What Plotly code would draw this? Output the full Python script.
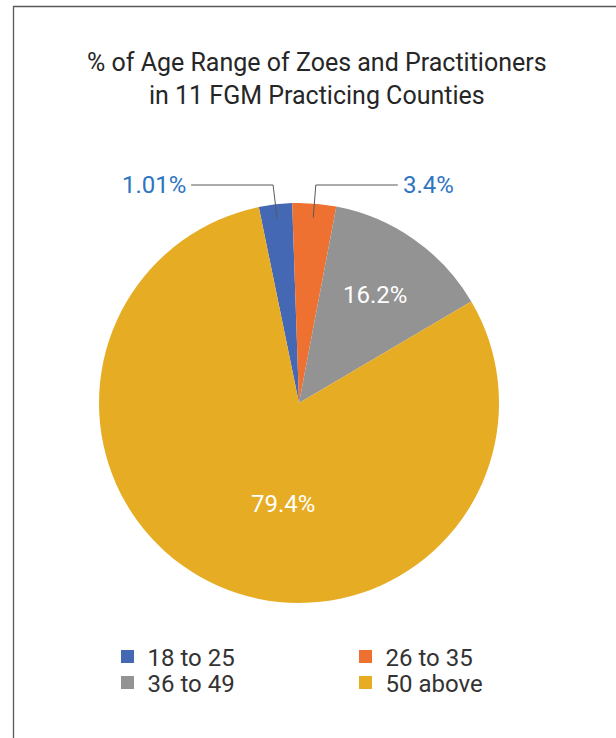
import math
import plotly.graph_objects as go

# ---- data ----
categories = ["18 to 25", "26 to 35", "36 to 49", "50 above"]
values = [2.68, 3.53, 13.53, 80.26]                # slice sizes as drawn
label_texts = ["1.01%", "3.4%", "16.2%", "79.4%"]  # labels as printed on the chart
colors = ["#4468B3", "#EE7131", "#939393", "#E6AC24"]
legend_rows = [0, 0, 1, 1]                          # which legend row each category sits in

W, H = 616, 738
CX, CY, R = 299, 403, 200
ROT = -11.6  # degrees, clockwise from 12 o'clock where the first slice starts

def px(x):
    return x / W

def py(y):
    return 1 - y / H

fig = go.Figure()
fig.add_trace(go.Pie(
    labels=categories,
    values=values,
    textinfo="none",
    marker=dict(colors=colors, line=dict(width=0)),
    sort=False,
    direction="clockwise",
    rotation=ROT,
    domain=dict(x=[px(CX - R), px(CX + R)], y=[py(CY + R), py(CY - R)]),
    hoverinfo="label+percent",
    showlegend=False,
))

# legend entries (two rows, tighter spacing like the original)
for cat, col, row in zip(categories, colors, legend_rows):
    fig.add_trace(go.Scatter(
        x=[None], y=[None], mode="markers", name=cat,
        marker=dict(symbol="square", size=13, color=col),
        legend="legend" if row == 0 else "legend2",
        showlegend=True, hoverinfo="skip",
    ))

shapes = []
annotations = []
total = sum(values)
cum = 0
inside_pos = {2: (0.66, None), 3: (0.51, 189.0)}
for i, v in enumerate(values):
    mid = ROT + 360 * (cum + v / 2) / total
    cum += v
    if i in inside_pos:
        frac, ang = inside_pos[i]
        a = math.radians(ang if ang is not None else mid)
        annotations.append(dict(xref="paper", yref="paper",
                                x=px(CX + frac * R * math.sin(a)),
                                y=py(CY - frac * R * math.cos(a)),
                                text=label_texts[i], showarrow=False,
                                xanchor="center", yanchor="middle",
                                font=dict(family="Roboto", size=24, color="white")))
        continue
    a = math.radians(mid)
    sx = CX + 0.93 * R * math.sin(a)
    sy = CY - 0.93 * R * math.cos(a)
    ey = CY - 1.09 * R
    ex = CX + (ey - CY) / (-math.cos(a)) * math.sin(a)
    sign = -1 if mid < 0 else 1
    hx = ex + sign * 82
    shapes.append(dict(type="path", xref="paper", yref="paper",
                       path=f"M{px(sx)},{py(sy)} L{px(ex)},{py(ey)} L{px(hx)},{py(ey)}",
                       line=dict(color="#595959", width=1)))
    annotations.append(dict(xref="paper", yref="paper", x=px(hx + sign * 3), y=py(ey),
                            text=label_texts[i], showarrow=False,
                            xanchor="right" if sign < 0 else "left", yanchor="middle",
                            font=dict(family="Roboto", size=24, color="#2E75C0")))

# title
annotations.append(dict(xref="paper", yref="paper", x=px(317), y=py(79),
                        text="% of Age Range of Zoes and Practitioners<br>in 11 FGM Practicing Counties",
                        showarrow=False, xanchor="center", yanchor="middle",
                        font=dict(family="Roboto", size=25, color="#262626")))

# chart border (left and top visible only)
shapes.append(dict(type="path", xref="paper", yref="paper",
                   path=f"M{px(13.5)},{py(H + 5)} L{px(13.5)},{py(6.5)} L{px(W + 5)},{py(6.5)}",
                   line=dict(color="#595959", width=1.3)))

leg_common = dict(orientation="h", xanchor="left", yanchor="middle",
                  entrywidth=193, entrywidthmode="pixels",
                  font=dict(family="Roboto", size=24, color="#333333"),
                  bgcolor="rgba(0,0,0,0)", traceorder="normal")

fig.update_layout(
    width=W, height=H,
    margin=dict(l=0, r=0, t=0, b=0),
    paper_bgcolor="white",
    plot_bgcolor="white",
    xaxis=dict(visible=False),
    yaxis=dict(visible=False),
    showlegend=True,
    legend=dict(x=px(107.5), y=py(657), **leg_common),
    legend2=dict(x=px(107.5), y=py(683), **leg_common),
    shapes=shapes,
    annotations=annotations,
)

fig.write_html("out.html",
               config={"displayModeBar": False},
               post_script="document.body.style.margin='0';document.body.style.overflow='hidden';")
